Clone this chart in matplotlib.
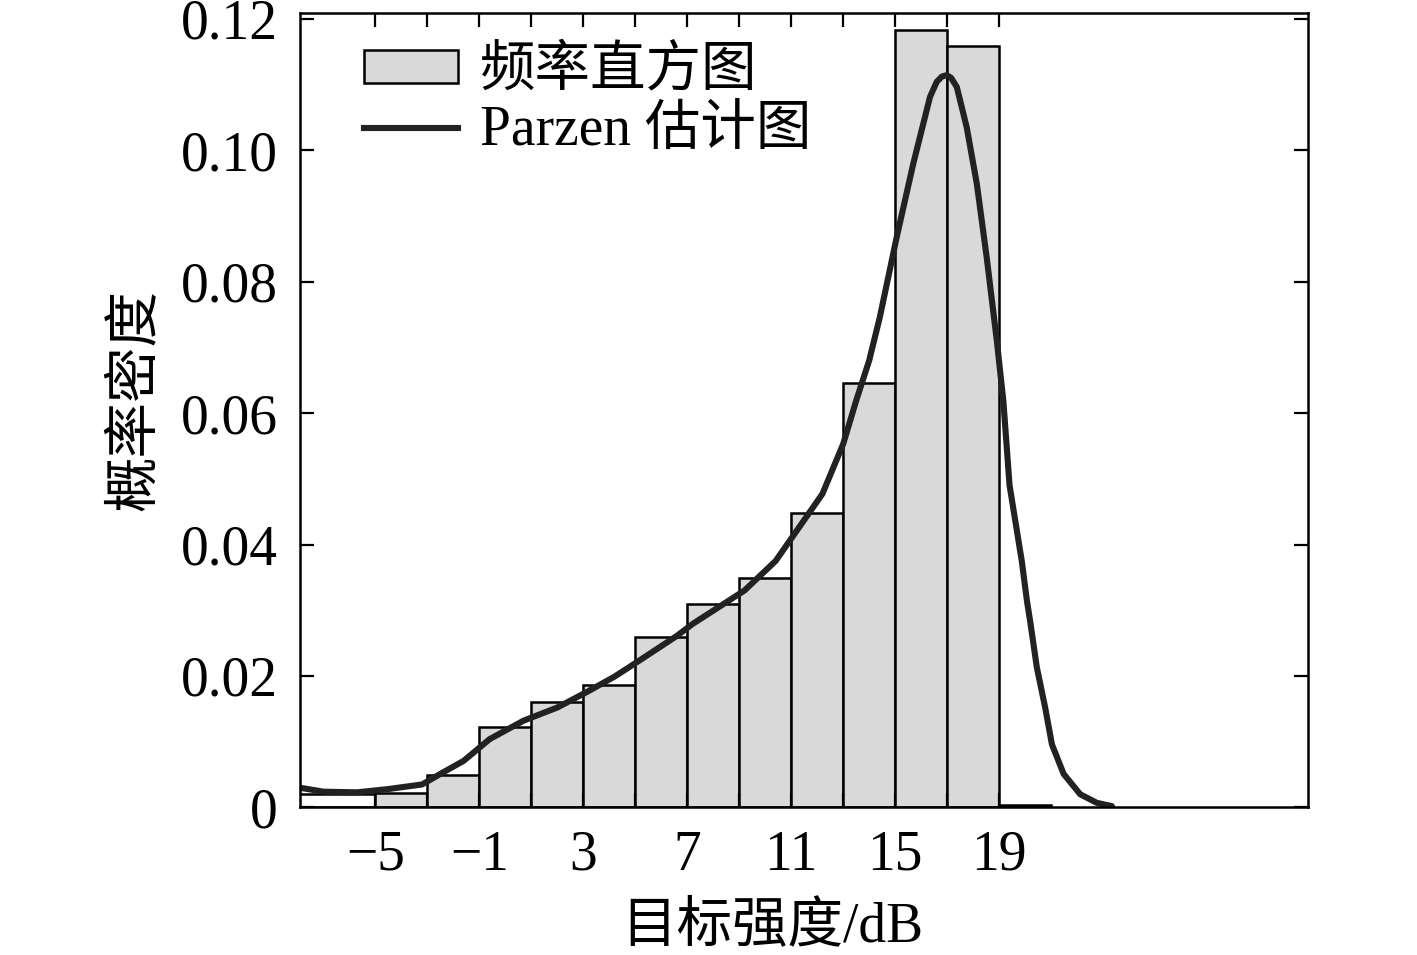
import matplotlib
matplotlib.use("Agg")
import matplotlib.pyplot as plt
from matplotlib.patches import Patch
from matplotlib.lines import Line2D
from matplotlib.ticker import FixedLocator, FuncFormatter

# -------------------------------------------------
# data
# -------------------------------------------------
bin_edges = [-9, -5, -3, -1, 1, 3, 5, 7, 9, 11, 13, 15, 17, 19, 21]
bin_density = [0.0021, 0.0022, 0.0050, 0.0123, 0.0161, 0.0187, 0.0260,
               0.0309, 0.0349, 0.0448, 0.0646, 0.1183, 0.1158, 0.0003]
bin_colors = ["white"] + ["#d9d9d9"] * 13

parzen_x = [-7.9, -7.0, -5.7, -4.5, -3.2, -2.5, -1.6, -0.6, 0.7, 2.0,
            3.2, 4.2, 5.1, 6.6, 7.2, 9.2, 10.4, 11.3, 12.2, 13.0,
            13.5, 14.0, 14.41, 15.06, 15.7, 16.34, 16.6, 16.8, 16.98, 17.15,
            17.37, 17.75, 18.14, 18.52, 18.91, 19.16, 19.4, 19.87, 20.07, 20.19,
            20.45, 20.77, 21.03, 21.48, 22.12, 22.76, 23.34]
parzen_y = [0.0030, 0.0024, 0.0023, 0.0028, 0.0035, 0.0051, 0.0071, 0.0104,
            0.0132, 0.0152, 0.0177, 0.0199, 0.0222, 0.0261, 0.0279, 0.0330,
            0.0375, 0.0426, 0.0477, 0.0553, 0.0619, 0.0680, 0.0746, 0.0868,
            0.0980, 0.1081, 0.1104, 0.1112, 0.1114, 0.1110, 0.1096, 0.1035,
            0.0949, 0.0837, 0.0710, 0.0619, 0.0490, 0.0375, 0.0314, 0.0284,
            0.0213, 0.0152, 0.0096, 0.0051, 0.0020, 0.0007, 0.0002]

x_major = [-5, -1, 3, 7, 11, 15, 19]
x_minor = [-3, 1, 5, 9, 13, 17]
y_ticks = [0, 0.02, 0.04, 0.06, 0.08, 0.10, 0.12]

FONT = ["Liberation Serif", "Noto Sans CJK SC", "DejaVu Sans"]
plt.rcParams["font.family"] = FONT
plt.rcParams["font.size"] = 40

BAR_GRAY = "#d9d9d9"
LINE_COLOR = "#222222"

# -------------------------------------------------
# figure
# -------------------------------------------------
fig = plt.figure(figsize=(14.17, 9.55), dpi=100)
ax = fig.add_axes([0.2117, 0.1545, 0.7117, 0.8315])

widths = [b - a for a, b in zip(bin_edges[:-1], bin_edges[1:])]
ax.bar(bin_edges[:-1], bin_density, width=widths, align="edge",
       color=bin_colors, edgecolor="black", linewidth=1.8)
ax.plot(parzen_x, parzen_y, color=LINE_COLOR, linewidth=4.4,
        solid_joinstyle="round", solid_capstyle="round")

ax.set_xlim(-7.9, 30.9)
ax.set_ylim(0, 0.1208)

ax.xaxis.set_major_locator(FixedLocator(x_major))
ax.xaxis.set_minor_locator(FixedLocator(x_minor))
ax.yaxis.set_major_locator(FixedLocator(y_ticks))
ax.yaxis.set_major_formatter(
    FuncFormatter(lambda v, p: "0" if v == 0 else f"{v:.2f}"))

ax.tick_params(which="both", direction="in", top=True, right=True,
               length=10, width=1.6)
ax.tick_params(axis="x", which="major", pad=16)
ax.tick_params(axis="y", which="major", pad=16)

for sp in ax.spines.values():
    sp.set_linewidth(1.8)

ax.set_xlabel("目标强度/dB", labelpad=14)
ax.set_ylabel("概率密度", labelpad=14)
# labels sit a little off-centre in the original
ax.xaxis.label.set_x(0.468)
ax.yaxis.label.set_y(0.513)

# legend
handles = [
    Patch(facecolor=BAR_GRAY, edgecolor="black", linewidth=1.8),
    Line2D([0], [0], color=LINE_COLOR, linewidth=4.4),
]
labels = ["频率直方图", "Parzen 估计图"]
ax.legend(handles, labels, loc="upper left",
          bbox_to_anchor=(0.063, 0.959), frameon=False,
          handlelength=1.7, handleheight=0.55, handletextpad=0.4,
          labelspacing=0.15, borderpad=0.0, borderaxespad=0.0)

fig.savefig("out.png", dpi=100)
